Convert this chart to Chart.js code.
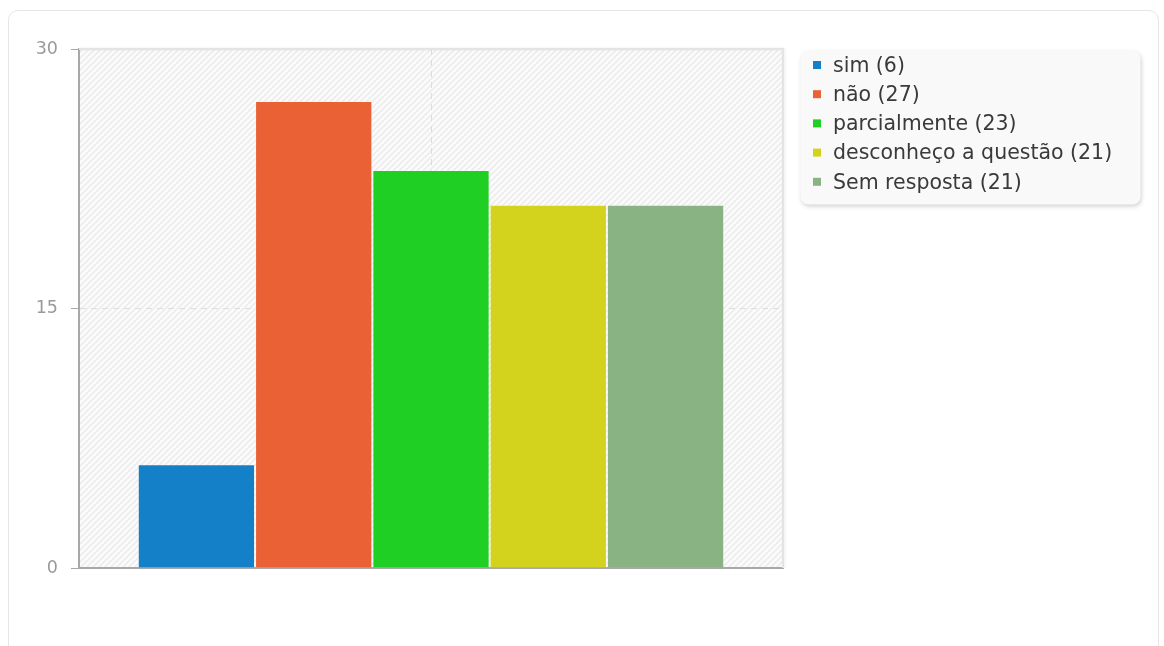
<!DOCTYPE html>
<html>
<head>
<meta charset="utf-8">
<script src="https://cdn.jsdelivr.net/npm/chart.js@4/dist/chart.umd.min.js"></script>
<style>
    body { margin: 0; background: #fff; }
    #frame {
        position: absolute; left: 8px; top: 10px; width: 1151px; height: 680px;
        border: 1px solid #e6e6e6; border-radius: 10px; box-sizing: border-box;
    }
    #wrap { position: absolute; left: 0; top: 0; width: 1164px; height: 646px; }
</style>
</head>
<body>
<div id="frame"></div>
<div id="wrap"><canvas id="answersChart"></canvas></div>
<script>
const categories = ["sim", "não", "parcialmente", "desconheço a questão", "Sem resposta"];
const counts = [6, 27, 23, 21, 21];
const barColors = ["#1380c8", "#e96134", "#20cf24", "#d3d31e", "#8ab384"];
const yTicks = [0, 15, 30];

const chartCanvas = document.getElementById("answersChart");
const FONT = "'DejaVu Sans', sans-serif";

// fundo listrado da área do gráfico
function makeHatch() {
    const tile = document.createElement("canvas");
    tile.width = 6;
    tile.height = 6;
    const t = tile.getContext("2d");
    t.fillStyle = "#fbfbfb";
    t.fillRect(0, 0, 6, 6);
    t.strokeStyle = "#ebebeb";
    t.lineWidth = 1.5;
    t.beginPath();
    t.moveTo(-1, 7); t.lineTo(7, -1);
    t.moveTo(-1, 1); t.lineTo(1, -1);
    t.moveTo(5, 7); t.lineTo(7, 5);
    t.stroke();
    return t.createPattern(tile, "repeat");
}

const plotBackground = {
    id: "plotBackground",
    beforeDraw(chart) {
        const { ctx, chartArea: a } = chart;
        ctx.save();
        ctx.fillStyle = makeHatch();
        ctx.fillRect(a.left, a.top, a.right - a.left, a.bottom - a.top);
        ctx.restore();
    },
    beforeDatasetsDraw(chart) {
        const { ctx, chartArea: a } = chart;
        ctx.save();
        ctx.shadowColor = "rgba(0,0,0,0.08)";
        ctx.shadowBlur = 3;
        ctx.shadowOffsetX = 1;
        ctx.strokeStyle = "#e4e4e4";
        ctx.lineWidth = 2;
        ctx.beginPath();
        ctx.moveTo(a.left, a.top);
        ctx.lineTo(a.right, a.top);
        ctx.lineTo(a.right, a.bottom);
        ctx.stroke();
        ctx.restore();
    }
};

// legenda desenhada à direita, com caixa e sombra
const sideLegend = {
    id: "sideLegend",
    afterDraw(chart) {
        const ctx = chart.ctx;
        const x = 800.5, y = 50.5, w = 340, h = 154;
        ctx.save();
        ctx.shadowColor = "rgba(0,0,0,0.18)";
        ctx.shadowBlur = 4;
        ctx.shadowOffsetX = 1;
        ctx.shadowOffsetY = 2;
        ctx.fillStyle = "#f9f9f9";
        ctx.beginPath();
        ctx.roundRect(x, y, w, h, 8);
        ctx.fill();
        ctx.restore();

        ctx.save();
        ctx.font = "20.5px " + FONT;
        ctx.textBaseline = "middle";
        chart.data.datasets.forEach((ds, i) => {
            const rowY = 65 + i * 29.2;
            ctx.fillStyle = ds.backgroundColor;
            ctx.fillRect(813, rowY - 4, 8, 8);
            ctx.fillStyle = "#3a3a3a";
            ctx.fillText(`${ds.label} (${ds.data[0]})`, 833, rowY + 1.5);
        });
        ctx.restore();
    }
};

new Chart(chartCanvas, {
    type: "bar",
    data: {
        labels: [""],
        datasets: categories.map((name, i) => ({
            label: name,
            data: [counts[i]],
            backgroundColor: barColors[i],
            borderColor: "rgba(255,255,255,0.22)",
            borderWidth: 1,
            categoryPercentage: 0.833,
            barPercentage: 1
        }))
    },
    options: {
        responsive: true,
        maintainAspectRatio: false,
        animation: false,
        layout: { padding: { top: 49, right: 381, bottom: 78, left: 0 } },
        plugins: { legend: { display: false }, tooltip: { enabled: false } },
        scales: {
            x: {
                ticks: { display: false },
                grid: { offset: false, drawTicks: false, color: "#dcdcdc", lineWidth: 1 },
                border: { color: "#a8a8a8", width: 2, dash: [6, 5] },
                afterFit(scale) { scale.height = 0; }
            },
            y: {
                min: 0,
                max: 30,
                afterBuildTicks(scale) { scale.ticks = yTicks.map(v => ({ value: v })); },
                afterFit(scale) { scale.width = 79; },
                ticks: { color: "#9a9a9a", padding: 13, font: { family: FONT, size: 17.5 } },
                grid: { color: "#dedede", tickColor: "#a8a8a8", tickLength: 8, lineWidth: 1, tickBorderDash: [] },
                border: { color: "#a8a8a8", width: 2, dash: [6, 5] }
            }
        }
    },
    plugins: [plotBackground, sideLegend]
});
</script>
</body>
</html>
